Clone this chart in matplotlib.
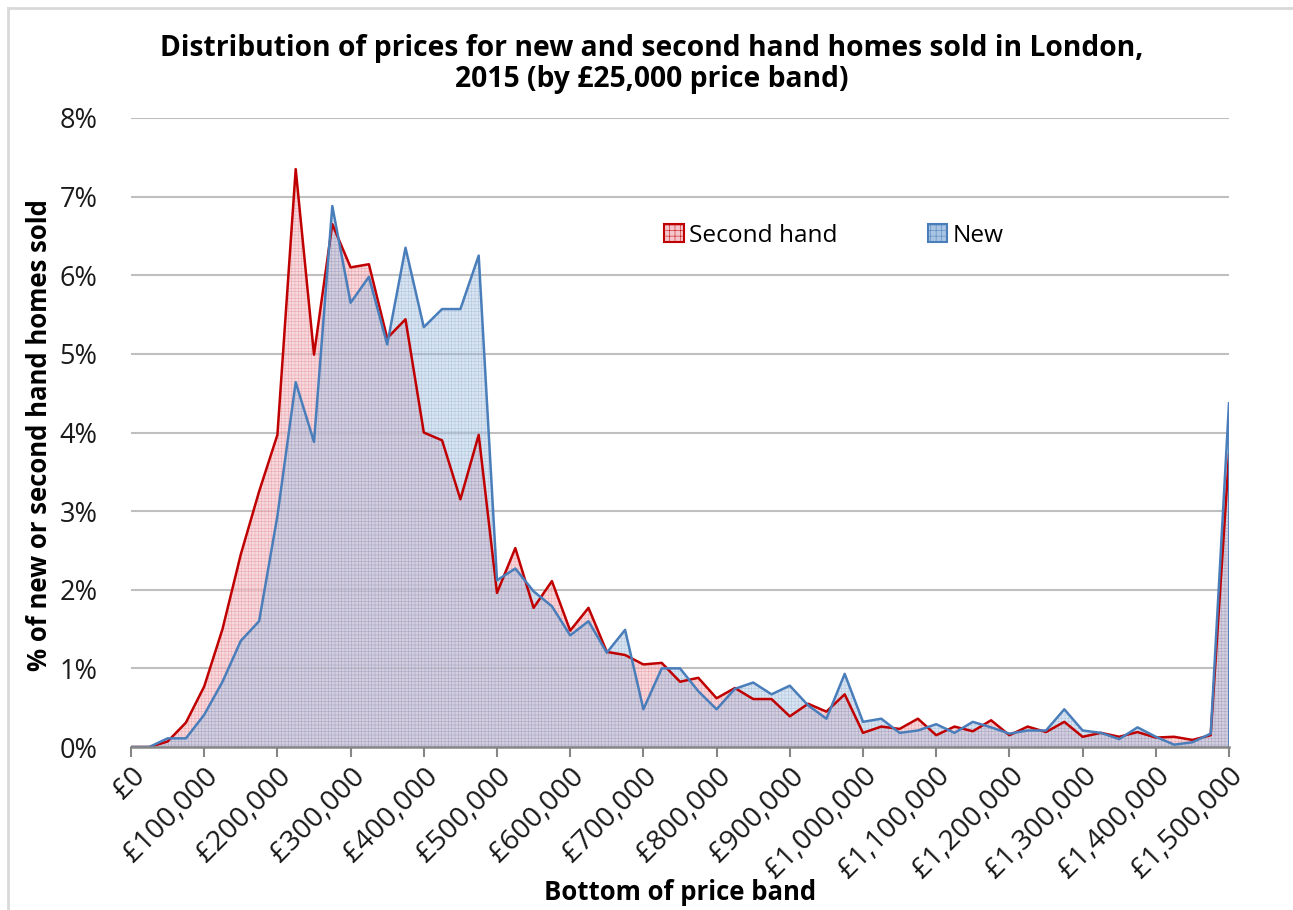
import matplotlib
matplotlib.use("Agg")
import matplotlib.pyplot as plt
import numpy as np
from matplotlib.patches import Patch
from matplotlib.lines import Line2D
from matplotlib.ticker import FuncFormatter, MultipleLocator

# === DATA ===
band_step = 25_000
price_bands = np.arange(0, 1_500_001, band_step)  # bottom of each £25k band

# % of homes sold in each band
second_hand = [
    0.00, 0.00, 0.07, 0.31, 0.77, 1.50, 2.45, 3.25, 3.97, 7.35,
    4.99, 6.65, 6.10, 6.14, 5.20, 5.44, 4.00, 3.90, 3.15, 3.97,
    1.96, 2.53, 1.77, 2.11, 1.48, 1.77, 1.21, 1.17, 1.05, 1.07,
    0.83, 0.88, 0.62, 0.75, 0.61, 0.61, 0.39, 0.55, 0.45, 0.67,
    0.18, 0.26, 0.23, 0.36, 0.15, 0.26, 0.20, 0.34, 0.15, 0.26,
    0.19, 0.32, 0.13, 0.18, 0.13, 0.19, 0.12, 0.13, 0.09, 0.15,
    3.72,
]
new_build = [
    0.00, 0.00, 0.11, 0.11, 0.41, 0.83, 1.35, 1.60, 2.94, 4.64,
    3.88, 6.88, 5.65, 5.98, 5.12, 6.35, 5.34, 5.57, 5.57, 6.25,
    2.12, 2.27, 1.98, 1.79, 1.42, 1.60, 1.20, 1.49, 0.48, 1.00,
    1.00, 0.71, 0.48, 0.74, 0.82, 0.67, 0.78, 0.53, 0.36, 0.93,
    0.32, 0.36, 0.18, 0.21, 0.29, 0.18, 0.32, 0.25, 0.17, 0.21,
    0.21, 0.48, 0.21, 0.18, 0.10, 0.25, 0.13, 0.03, 0.06, 0.17,
    4.37,
]
series_names = ["Second hand", "New"]

# === STYLE ===
plt.rcParams["font.family"] = ["Open Sans", "DejaVu Sans"]
plt.rcParams["hatch.linewidth"] = 0.35

red_line = "#C00000"
red_fill = "#F4C6CB"
red_hatch = "#E08A94"
blue_line = "#4A7EBB"
blue_fill = "#A9C4E2"
blue_hatch = "#7E9CC6"

fig = plt.figure(figsize=(12.93, 9.10), dpi=100)
ax = fig.add_axes([131 / 1293, 1 - 747 / 910, (1229 - 131) / 1293, (747 - 118) / 910])

x = price_bands
sh = np.array(second_hand)
nb = np.array(new_build)

# second hand first, new drawn on top (semi transparent)
ax.fill_between(x, 0, sh, facecolor=red_fill, edgecolor=red_hatch, hatch="+++++",
                linewidth=0, alpha=0.65, zorder=2)
ax.fill_between(x, 0, nb, facecolor=blue_fill, edgecolor=blue_hatch, hatch="+++++",
                linewidth=0, alpha=0.45, zorder=3)
ax.plot(x, sh, color=red_line, lw=1.8, zorder=4)
ax.plot(x, nb, color=blue_line, lw=1.8, zorder=5)
ax.plot([x[-1], x[-1]], [0, nb[-1]], color=blue_line, lw=2, zorder=5)

# axes
ax.set_xlim(0, 1_500_000)
ax.set_ylim(0, 8)
ax.yaxis.set_major_locator(MultipleLocator(1))
ax.yaxis.set_major_formatter(FuncFormatter(lambda v, p: f"{v:.0f}%"))
ax.xaxis.set_major_locator(MultipleLocator(100_000))
ax.xaxis.set_major_formatter(FuncFormatter(lambda v, p: f"£{v:,.0f}"))
ax.grid(axis="y", color="#BFBFBF", lw=1.5, zorder=1)
ax.set_axisbelow(True)
for s in ["top", "right", "left"]:
    ax.spines[s].set_visible(False)
ax.spines["bottom"].set_color("#868686")
ax.spines["bottom"].set_linewidth(1.8)
ax.spines["bottom"].set_zorder(6)
ax.tick_params(axis="y", length=0, pad=24, labelsize=19.5, labelcolor="#1a1a1a")
ax.tick_params(axis="x", length=7, width=1.5, color="#868686", direction="out",
               labelsize=20.5, labelcolor="#1a1a1a", pad=4)
plt.setp(ax.get_xticklabels(), rotation=45, ha="right", rotation_mode="anchor")

ax.set_title("Distribution of prices for new and second hand homes sold in London,\n"
             "2015 (by £25,000 price band)",
             fontsize=20.3, fontweight="bold", pad=22, linespacing=1.1, x=0.4745)
ax.set_xlabel("Bottom of price band", fontsize=18.5, fontweight="bold", va="center")
ax.xaxis.set_label_coords(0.5, -0.232)
ax.set_ylabel("% of new or second hand homes sold", fontsize=18.5, fontweight="bold",
              va="center")
ax.yaxis.set_label_coords(-0.083, 0.496)

handles = [
    Patch(facecolor=red_fill, edgecolor=red_line, hatch="+++", lw=1.5),
    Patch(facecolor=blue_fill, edgecolor=blue_line, hatch="+++", lw=1.5),
]
ax.legend(handles, series_names, ncol=2, frameon=False, fontsize=17.6,
          loc="center", bbox_to_anchor=(0.64, 0.813), handlelength=0.8,
          handleheight=0.8, handletextpad=0.2, columnspacing=3.7)

# light frame around the chart (left and top edge)
fig.add_artist(Line2D([8 / 1293, 8 / 1293], [0, 1 - 8 / 910], color="#D9D9D9", lw=2,
                      transform=fig.transFigure))
fig.add_artist(Line2D([8 / 1293, 1], [1 - 8 / 910, 1 - 8 / 910], color="#D9D9D9", lw=2,
                      transform=fig.transFigure))

fig.savefig("out.png", dpi=100)
